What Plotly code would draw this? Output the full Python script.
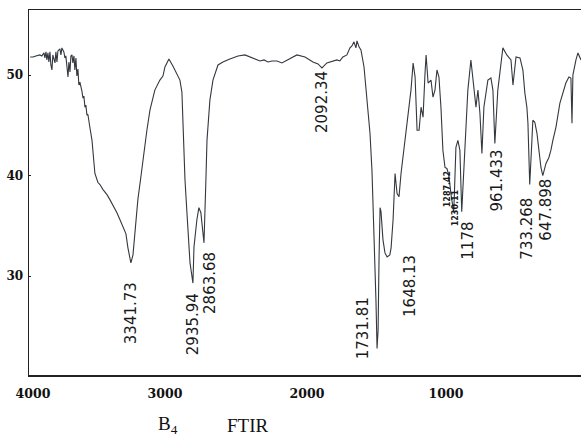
import plotly.graph_objects as go

# FTIR spectrum (wavenumber cm^-1, transmittance %)
wavenumber = [
    4000, 3982, 3963, 3937, 3924, 3910, 3904, 3897, 3891, 3884, 3878, 3871, 3865, 3858,
    3852, 3838, 3832, 3825, 3819, 3806, 3799, 3793, 3780, 3773, 3767, 3760, 3753, 3747,
    3740, 3734, 3727, 3721, 3714, 3708, 3701, 3695, 3688, 3682, 3675, 3662, 3655, 3649,
    3642, 3636, 3629, 3623, 3616, 3610, 3596, 3590, 3577, 3557, 3544, 3524, 3498, 3479,
    3452, 3433, 3413, 3387, 3374, 3361, 3341.73, 3328, 3315, 3296, 3276, 3256, 3237,
    3217, 3185, 3152, 3132, 3119, 3093, 3067, 3041, 3021, 3008, 3001, 2988, 2975, 2955,
    2935.94, 2929, 2910, 2897, 2884, 2863.68, 2851, 2844, 2825, 2805, 2772, 2740, 2694,
    2641, 2596, 2550, 2524, 2497, 2471, 2445, 2419, 2386, 2354, 2328, 2302, 2256, 2203,
    2151, 2118, 2092.34, 2060, 2040, 2007, 1994, 1975, 1955, 1929, 1909, 1896, 1883,
    1870, 1863, 1850, 1837, 1817, 1804, 1791, 1778, 1765, 1752, 1739, 1731.81, 1725,
    1719, 1712, 1706, 1693, 1680, 1666, 1648.13, 1640, 1627, 1614, 1601, 1588, 1575,
    1555, 1542, 1529, 1510, 1496, 1483, 1470, 1457, 1444, 1431, 1418, 1411, 1398, 1379,
    1366, 1353, 1340, 1327, 1314, 1301, 1287.42, 1275, 1262, 1249, 1230.11, 1216, 1203,
    1190, 1178, 1157, 1138, 1118, 1105, 1085, 1072, 1059, 1046, 1033, 1007, 987, 974,
    961.433, 942, 928, 909, 883, 856, 843, 823, 797, 778, 765, 752, 745, 733.268, 719,
    713, 700, 686, 673, 660, 647.898, 627, 608, 595, 582, 562, 536, 516, 497, 477, 464,
    457, 451, 431, 418, 398,
]
transmittance = [
    51.8, 51.8, 51.9, 52.0, 51.9, 52.2, 51.7, 52.3, 51.5, 52.2, 51.3, 52.3, 51.0, 50.5,
    52.0, 51.2, 52.3, 51.3, 52.4, 52.6, 52.0, 52.7, 52.3, 51.7, 51.9, 51.0, 49.8, 51.3,
    50.3, 51.9, 52.0, 51.2, 51.9, 50.5, 51.7, 49.9, 50.6, 49.0, 49.3, 48.4, 47.7, 47.9,
    46.8, 47.0, 46.0, 46.1, 45.2, 44.8, 43.5, 42.5, 40.2, 39.3, 39.1, 38.6, 38.1, 37.6,
    36.9, 36.3, 35.6, 34.6, 34.2, 32.8, 31.3, 32.1, 34.1, 37.6, 39.9, 42.5, 44.5,
    46.5, 48.5, 49.5, 49.9, 50.8, 51.6, 50.9, 50.1, 49.5, 48.3, 44.5, 39.6, 36.3, 31.3,
    29.3, 32.9, 35.6, 36.8, 36.3, 33.3, 39.6, 43.5, 47.5, 49.5, 51.0, 51.3, 51.6,
    51.9, 52.0, 51.7, 51.5, 51.4, 51.5, 51.3, 51.4, 51.4, 51.2, 51.4, 51.6, 52.0, 51.8,
    51.3, 51.1, 50.7, 51.2, 51.3, 51.4, 51.5, 51.4, 51.8, 52.0, 52.7, 52.9, 53.3,
    52.7, 53.4, 52.8, 52.5, 50.8, 48.8, 46.5, 44.2, 40.5, 34.6, 27.6, 22.8, 24.6,
    31.6, 36.8, 36.4, 33.6, 32.3, 31.9, 32.1, 32.8, 35.6, 40.2, 38.2, 37.9, 40.2,
    42.8, 44.2, 46.2, 48.5, 51.2, 49.8, 44.5, 44.5, 46.8, 45.8, 50.2, 52.0, 49.2, 49.5,
    47.8, 48.5, 50.5, 49.8, 46.8, 42.5, 40.8, 40.7, 40.0, 38.2, 36.3, 42.8, 43.5,
    42.5, 36.4, 43.5, 48.5, 51.5, 49.5, 46.8, 48.5, 46.2, 42.2, 46.8, 49.5, 49.7, 48.5,
    43.2, 48.5, 50.2, 52.7, 52.0, 51.5, 49.0, 51.8, 51.7, 50.5, 48.2, 46.8, 45.2, 39.1, 43.5,
    45.5, 45.3, 44.2, 42.5, 40.8, 40.0, 41.2, 41.8, 42.5, 43.5, 44.8, 47.2, 48.2, 49.2, 49.8, 49.7,
    45.2, 50.0, 51.5, 52.2, 51.5,
]

peak_labels = ["3341.73", "2935.94", "2863.68", "2092.34", "1731.81", "1648.13",
               "1287.42", "1230.11", "1178", "961.433", "733.268", "647.898"]
peak_label_x = [3341, 2936, 2825, 2093, 1824, 1517, 1270, 1218, 1138, 948, 752, 627]
peak_label_y = [26.3, 25.2, 29.3, 47.3, 24.8, 29.0, 38.6, 36.8, 33.5, 39.5, 34.7, 36.6]
small_labels = {"1287.42", "1230.11"}

x_tick_text = ["4000", "3000", "2000", "1000"]
x_tick_pos = [3982, 3119, 2190, 1281]
y_tick_vals = [30, 40, 50]

W, H = 581, 441
L, T, R, B = 29, 10, 0, 66
pw, ph = W - L - R, H - T - B


def page_to_paper(px, py):
    return (px - L) / pw, (H - B - py) / ph


fig = go.Figure()
fig.add_trace(go.Scatter(
    x=wavenumber, y=transmittance, mode="lines",
    line=dict(color="#33383f", width=1.1), hoverinfo="skip", showlegend=False,
))

annotations = []
for txt, ax, ay in zip(peak_labels, peak_label_x, peak_label_y):
    small = txt in small_labels
    annotations.append(dict(
        x=ax, y=ay, xref="x", yref="y", text=txt, showarrow=False,
        textangle=-90, xanchor="center", yanchor="middle",
        font=dict(family="DejaVu Sans", size=8 if small else 15,
                  color="#1a1a1a", weight="bold" if small else "normal"),
    ))

for txt, px, py in [("B<sub>4</sub>", 168, 425), ("FTIR", 248, 425)]:
    fx, fy = page_to_paper(px, py)
    annotations.append(dict(x=fx, y=fy, xref="paper", yref="paper", text=txt,
                            showarrow=False, xanchor="center", yanchor="middle",
                            font=dict(family="Liberation Serif", size=19, color="#111")))

fig.update_layout(
    width=W, height=H,
    margin=dict(l=L, r=R, t=T, b=B, autoexpand=False),
    paper_bgcolor="white", plot_bgcolor="white",
    annotations=annotations,
    hovermode=False,
    xaxis=dict(
        range=[4008, 398], showgrid=False, zeroline=False,
        showline=True, linecolor="#222", linewidth=1.5, mirror=True,
        tickmode="array", tickvals=x_tick_pos, ticktext=x_tick_text,
        ticks="", ticklabelstandoff=6,
        tickfont=dict(family="DejaVu Serif", size=12.5, color="#111", weight="bold"),
    ),
    yaxis=dict(
        range=[20.15, 56.47], showgrid=False, zeroline=False,
        showline=True, linecolor="#222", linewidth=1.5,
        tickmode="array", tickvals=y_tick_vals,
        ticks="inside", ticklen=2, tickcolor="#222",
        ticklabelstandoff=2,
        tickfont=dict(family="DejaVu Serif", size=12, color="#111", weight="bold"),
    ),
)

fig.write_html("out.html", config={"displayModeBar": False, "staticPlot": True},
               post_script="document.body.style.margin='0px';")
